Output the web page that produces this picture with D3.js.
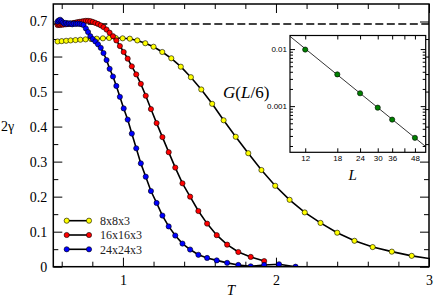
<html>
<head>
<style>
  body { margin:0; padding:0; background:#fff; }
  svg { display:block; font-family:"Liberation Serif", "DejaVu Serif", serif; }
  .frame { fill:none; stroke:#000; stroke-width:1.5; }
  .tick line { stroke:#000; stroke-width:1; }
  .tick text { fill:#000; }
</style>
</head>
<body>
<svg width="436" height="302"></svg>
<script src="https://d3js.org/d3.v7.min.js"></script>
<script>

// main panel: 2 gamma vs T, three lattice sizes
var yellowT = [0.573,0.600,0.629,0.658,0.690,0.722,0.756,0.792,0.829,0.869,0.910,0.953,0.998,1.045,1.094,1.146,1.200,1.257,1.316,1.378,1.444,1.512,1.583,1.658,1.737,1.819,1.905,1.995,2.089,2.188,2.291,2.400,2.513,2.632,2.757,2.887,3.024];
var yellowG = [0.643,0.644,0.645,0.646,0.647,0.648,0.649,0.650,0.651,0.652,0.653,0.653,0.652,0.651,0.646,0.638,0.628,0.613,0.595,0.571,0.541,0.506,0.465,0.418,0.371,0.324,0.276,0.231,0.191,0.155,0.125,0.097,0.074,0.056,0.043,0.031,0.022];

var redT = [0.573,0.581,0.590,0.599,0.608,0.617,0.627,0.637,0.647,0.658,0.669,0.680,0.692,0.704,0.717,0.730,0.743,0.758,0.772,0.787,0.803,0.820,0.837,0.855,0.873,0.893,0.913,0.935,0.957,0.980,1.005,1.031,1.058,1.087,1.117,1.149,1.183,1.220,1.258,1.299,1.342,1.389,1.439,1.493,1.550,1.613,1.681,1.754,1.835,1.923];
var redG = [0.690,0.691,0.690,0.692,0.691,0.693,0.692,0.694,0.693,0.694,0.695,0.696,0.697,0.698,0.699,0.700,0.701,0.702,0.702,0.701,0.699,0.696,0.693,0.689,0.684,0.677,0.668,0.658,0.646,0.630,0.613,0.594,0.572,0.549,0.522,0.488,0.450,0.410,0.370,0.327,0.283,0.238,0.200,0.159,0.123,0.090,0.063,0.042,0.028,0.016];

var blueT = [0.573,0.581,0.590,0.599,0.608,0.617,0.627,0.637,0.647,0.658,0.669,0.680,0.692,0.704,0.717,0.730,0.743,0.758,0.772,0.787,0.803,0.820,0.837,0.855,0.873,0.893,0.913,0.935,0.957,0.980,1.005,1.031,1.058,1.087,1.117,1.149,1.183,1.220,1.258,1.299,1.342,1.389,1.439,1.493,1.550,1.613,1.681,1.754,1.835,1.923,2.020,2.128];
var blueG = [0.700,0.703,0.705,0.701,0.697,0.694,0.696,0.693,0.695,0.694,0.692,0.694,0.693,0.694,0.693,0.692,0.690,0.680,0.670,0.658,0.650,0.643,0.635,0.625,0.610,0.590,0.565,0.543,0.516,0.485,0.452,0.420,0.380,0.338,0.295,0.257,0.216,0.182,0.146,0.115,0.089,0.066,0.049,0.034,0.025,0.018,0.011,0.005,0.001,0.005,0.007,0.000];

var seriesNames = ["8x8x3", "16x16x3", "24x24x3"];
var seriesColors = ["#ffff00", "#ff0000", "#0000ff"];
var ln2 = 0.693;

var xMajor = [1, 2, 3];
var xMinor = [0.6,0.8,1.2,1.4,1.6,1.8,2.2,2.4,2.6,2.8];
var yMajor = [0,0.1,0.2,0.3,0.4,0.5,0.6,0.7];
var yMinor = [0.05,0.15,0.25,0.35,0.45,0.55,0.65];

// inset: G(L/6) vs L, log-log
var insetL = [12, 18, 24, 30, 36, 48];
var insetG = [0.0098, 0.0036, 0.00168, 0.00094, 0.00058, 0.000278];
var fitL = [9.9, 55];
var fitG = [0.0167, 0.0001955];
var insetXTicks = [12, 18, 24, 30, 36, 48];
var insetXMinor = [42];
var insetYMajor = [0.001, 0.01];
var insetYMinor = [0.0002,0.0003,0.0004,0.0005,0.0006,0.0007,0.0008,0.0009,0.002,0.003,0.004,0.005,0.006,0.007,0.008,0.009];

var svg = d3.select("svg");

var mLeft = 53.3, mRight = 429, mTop = 4, mBottom = 266.7;
var x = d3.scaleLinear().domain([0.545, 3]).range([mLeft, mRight]);
var y = d3.scaleLinear().domain([0, 0.75]).range([mBottom, mTop]);

svg.append("defs").append("clipPath").attr("id", "plotclip")
  .append("rect").attr("x", mLeft).attr("y", mTop)
  .attr("width", mRight - mLeft).attr("height", mBottom - mTop);

// ticks, all pointing inward
function addAxis(axis, tx, ty, vals, size, labels, fs) {
  var g = svg.append("g").attr("transform", "translate(" + tx + "," + ty + ")")
    .call(axis.tickValues(vals).tickSizeInner(size).tickSizeOuter(0).tickPadding(labels ? 6 : 0)
      .tickFormat(labels ? labels : ""));
  g.select(".domain").remove();
  g.selectAll("text").style("font-size", fs + "px").style("font-family", "Liberation Serif");
  return g;
}

addAxis(d3.axisBottom(x), 0, mBottom, xMajor, -9, d3.format("d"), 14).selectAll("text").attr("dy", "0.85em");
addAxis(d3.axisBottom(x), 0, mBottom, xMinor, -5);
addAxis(d3.axisTop(x), 0, mTop, xMajor, -9);
addAxis(d3.axisTop(x), 0, mTop, xMinor, -5);
addAxis(d3.axisLeft(y), mLeft, 0, yMajor, -9, function(d){ return d === 0 ? "0" : d3.format(".1f")(d); }, 14)
  .selectAll("text").attr("x", -6);
addAxis(d3.axisLeft(y), mLeft, 0, yMinor, -5);
addAxis(d3.axisRight(y), mRight, 0, yMajor, -9);
addAxis(d3.axisRight(y), mRight, 0, yMinor, -5);

// ln 2 reference
svg.append("line")
  .attr("x1", mLeft).attr("x2", mRight)
  .attr("y1", y(ln2)).attr("y2", y(ln2))
  .attr("stroke", "#000").attr("stroke-width", 1.5)
  .attr("stroke-dasharray", "8,3.5");

var seriesT = [yellowT, redT, blueT];
var seriesG = [yellowG, redG, blueG];
var line = d3.line().x(function(d){ return x(d[0]); }).y(function(d){ return y(d[1]); });

var plot = svg.append("g").attr("clip-path", "url(#plotclip)");
seriesT.forEach(function(ts, k) {
  var pts = ts.map(function(t, i){ return [t, seriesG[k][i]]; });
  var g = plot.append("g");
  g.append("path").datum(pts).attr("d", line)
    .attr("fill", "none").attr("stroke", "#000").attr("stroke-width", 1.6);
  g.selectAll("circle").data(pts).enter().append("circle")
    .attr("cx", function(d){ return x(d[0]); })
    .attr("cy", function(d){ return y(d[1]); })
    .attr("r", 2.6)
    .attr("fill", seriesColors[k]).attr("stroke", "#000").attr("stroke-width", 0.6);
});

svg.append("rect").attr("class", "frame")
  .attr("x", mLeft).attr("y", mTop).attr("width", mRight - mLeft).attr("height", mBottom - mTop);

// legend
var legend = svg.append("g");
seriesNames.forEach(function(name, k) {
  var ly = 220.7 + k * 14.3;
  legend.append("line").attr("x1", 66.7).attr("x2", 89).attr("y1", ly).attr("y2", ly)
    .attr("stroke", "#000").attr("stroke-width", 1.6);
  [66.7, 89].forEach(function(lx) {
    legend.append("circle").attr("cx", lx).attr("cy", ly).attr("r", 2.6)
      .attr("fill", seriesColors[k]).attr("stroke", "#000").attr("stroke-width", 0.6);
  });
  legend.append("text").attr("x", 100).attr("y", ly).attr("dy", "0.35em")
    .style("font-size", "12px").attr("fill", "#222").text(name);
});

// axis titles
svg.append("text").attr("x", 1).attr("y", 126).attr("dy", "0.35em")
  .style("font-size", "14px").text("2γ");
svg.append("text").attr("x", 231).attr("y", 290).attr("dy", "0.35em")
  .attr("text-anchor", "middle").style("font-size", "15px").style("font-style", "italic").text("T");

var gl = svg.append("text").attr("x", 223).attr("y", 98).style("font-size", "17px");
gl.append("tspan").style("font-style", "italic").text("G");
gl.append("tspan").text("(");
gl.append("tspan").style("font-style", "italic").text("L");
gl.append("tspan").text("/6)");

// inset
var il = 290, ir = 425.7, it = 35.5, ib = 152.3;
var xi = d3.scaleLog().domain([9.9, 55]).range([il, ir]);
var yi = d3.scaleLog().domain([0.000155, 0.0173]).range([ib, it]);

svg.append("rect").attr("x", il).attr("y", it).attr("width", ir - il).attr("height", ib - it)
  .attr("fill", "#fff");
svg.append("defs").append("clipPath").attr("id", "insetclip")
  .append("rect").attr("x", il).attr("y", it).attr("width", ir - il).attr("height", ib - it);

function addInsetAxis(axis, tx, ty, vals, size, fmt) {
  var g = svg.append("g").attr("transform", "translate(" + tx + "," + ty + ")")
    .call(axis.tickValues(vals).tickSizeInner(size).tickSizeOuter(0).tickPadding(fmt ? 3 : 0)
      .tickFormat(fmt ? fmt : ""));
  g.select(".domain").remove();
  g.selectAll("line").attr("stroke-width", 0.8);
  g.selectAll("text").style("font-size", "8px").attr("fill", "#333");
  return g;
}
addInsetAxis(d3.axisBottom(xi), 0, ib, insetXTicks, -4, d3.format("d"));
addInsetAxis(d3.axisBottom(xi), 0, ib, insetXMinor, -4);
addInsetAxis(d3.axisTop(xi), 0, it, insetXTicks.concat(insetXMinor), -4);
addInsetAxis(d3.axisLeft(yi), il, 0, insetYMajor, -5, function(d){ return d === 0.01 ? "0.01" : "0.001"; });
addInsetAxis(d3.axisLeft(yi), il, 0, insetYMinor, -3);
addInsetAxis(d3.axisRight(yi), ir, 0, insetYMajor, -5);
addInsetAxis(d3.axisRight(yi), ir, 0, insetYMinor, -3);

var ig = svg.append("g").attr("clip-path", "url(#insetclip)");
ig.append("path")
  .datum(fitL.map(function(l, i){ return [l, fitG[i]]; }))
  .attr("d", d3.line().x(function(d){ return xi(d[0]); }).y(function(d){ return yi(d[1]); }))
  .attr("stroke", "#000").attr("stroke-width", 0.8).attr("fill", "none");
ig.selectAll("circle").data(insetL).enter().append("circle")
  .attr("cx", function(d){ return xi(d); })
  .attr("cy", function(d, i){ return yi(insetG[i]); })
  .attr("r", 2.6)
  .attr("fill", "#008000").attr("stroke", "#000").attr("stroke-width", 0.6);

svg.append("rect").attr("x", il).attr("y", it).attr("width", ir - il).attr("height", ib - it)
  .attr("fill", "none").attr("stroke", "#000").attr("stroke-width", 1.2);

svg.append("text").attr("x", 352.7).attr("y", 175).attr("dy", "0.35em")
  .attr("text-anchor", "middle").style("font-size", "15px").style("font-style", "italic").text("L");

</script>
</body>
</html>
